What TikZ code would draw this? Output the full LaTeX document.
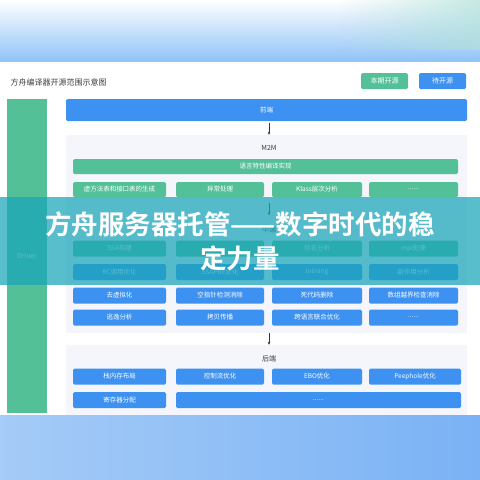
\documentclass[tikz,border=0pt]{standalone}
\usepackage{fontspec}
\setmainfont{Noto Sans CJK SC}[BoldFont=Noto Sans CJK SC Bold]
\usetikzlibrary{arrows.meta,fadings}
\definecolor{arkblue}{RGB}{61,145,241}
\definecolor{arkgreen}{RGB}{84,192,152}
\definecolor{panelbg}{RGB}{244,246,252}
\definecolor{skyblue}{RGB}{142,194,247}
\definecolor{bandblue}{RGB}{122,178,245}
\definecolor{bandlight}{RGB}{165,203,247}
\definecolor{mint}{RGB}{175,225,215}
\definecolor{veil}{RGB}{25,165,185}
\definecolor{inkgray}{RGB}{60,60,60}
\begin{document}
\begin{tikzpicture}[x=1pt,y=-1pt,
	box/.style={rectangle,rounded corners=1.5pt,inner sep=0pt,minimum height=16pt,text=white,font=\fontsize{6.5}{7}\selectfont},
	gbox/.style={box,fill=arkgreen},
	bbox/.style={box,fill=arkblue},
	panel/.style={rectangle,fill=panelbg,inner sep=0pt},
	lbl/.style={font=\fontsize{7}{8}\selectfont,text=inkgray},
	arr/.style={-{Stealth[length=3pt,width=2.6pt]},line width=0.5pt,black!80}]
	\useasboundingbox (0,0) rectangle (480,480);
	% background bands
	\shade[top color=white,bottom color=skyblue] (0,0) rectangle (480,62);
	\fill[mint,opacity=0.7,path fading=west] (340,0) rectangle (480,50);
	\fill[white] (0,62) rectangle (480,415);
	\shade[left color=bandlight,right color=bandblue] (0,415) rectangle (480,480);
	% title and legend
	\node[lbl,anchor=west,font=\fontsize{8}{9}\selectfont] (title) at (7,82) {方舟编译器开源范围示意图};
	\node[gbox,minimum width=47pt,font=\fontsize{7}{8}\selectfont] (leg1) at (384.5,81) {本期开源};
	\node[bbox,minimum width=47pt,font=\fontsize{7}{8}\selectfont] (leg2) at (442.5,81) {待开源};
	% driver column
	\node[rectangle,fill=arkgreen,inner sep=0pt,minimum width=40pt,minimum height=314pt,text=white,font=\fontsize{7}{8}\selectfont] (drv) at (27,256) {Driver};
	% front end
	\node[bbox,minimum width=401pt,minimum height=22pt] (qd) at (266.5,110) {前端};
	% middle end
	\node[panel,minimum width=401pt,minimum height=198pt] (mpanel) at (266.5,234) {};
	\node[lbl] (m2m) at (269,148) {M2M};
	\node[gbox,minimum width=385pt,minimum height=15pt] (lang) at (265.5,166.5) {语言特性编译实现};
	\node[gbox,minimum width=93pt,minimum height=15pt] (r1a) at (119.5,189.5) {虚方法表和接口表的生成};
	\node[gbox,minimum width=88pt,minimum height=15pt] (r1b) at (220,189.5) {异常处理};
	\node[gbox,minimum width=90pt,minimum height=15pt] (r1c) at (317,189.5) {Klass层次分析};
	\node[gbox,minimum width=89pt,minimum height=15pt] (r1d) at (413.5,189.5) {......};
	\node[lbl] (zd) at (269,230) {中端};
	\node[gbox,minimum width=93pt] (r2a) at (119.5,248.5) {SSA构建};
	\node[gbox,minimum width=88pt] (r2b) at (220,248.5) {};
	\node[gbox,minimum width=90pt] (r2c) at (317,248.5) {别名分析};
	\node[gbox,minimum width=89pt] (r2d) at (413.5,248.5) {mpl处理};
	\node[bbox,minimum width=93pt] (r3a) at (119.5,272) {RC调用优化};
	\node[bbox,minimum width=88pt] (r3b) at (220,272) {SSAPRE优化};
	\node[bbox,minimum width=90pt] (r3c) at (317,272) {inlining};
	\node[bbox,minimum width=89pt] (r3d) at (413.5,272) {副作用分析};
	\node[bbox,minimum width=93pt] (r4a) at (119.5,295.5) {去虚拟化};
	\node[bbox,minimum width=88pt] (r4b) at (220,295.5) {空指针检测消除};
	\node[bbox,minimum width=90pt] (r4c) at (317,295.5) {死代码删除};
	\node[bbox,minimum width=89pt] (r4d) at (413.5,295.5) {数组越界检查消除};
	\node[bbox,minimum width=93pt] (r5a) at (119.5,317.5) {逃逸分析};
	\node[bbox,minimum width=88pt] (r5b) at (220,317.5) {拷贝传播};
	\node[bbox,minimum width=90pt] (r5c) at (317,317.5) {跨语言联合优化};
	\node[bbox,minimum width=89pt] (r5d) at (413.5,317.5) {......};
	% back end
	\node[panel,minimum width=401pt,minimum height=70pt] (hpanel) at (266.5,380) {};
	\node[lbl] (hd) at (269,359) {后端};
	\node[bbox,minimum width=93pt] (r6a) at (119.5,376.5) {栈内存布局};
	\node[bbox,minimum width=88pt] (r6b) at (220,376.5) {控制流优化};
	\node[bbox,minimum width=90pt] (r6c) at (317,376.5) {EBO优化};
	\node[bbox,minimum width=92pt] (r6d) at (415,376.5) {Peephole优化};
	\node[bbox,minimum width=93pt] (r7a) at (119.5,400) {寄存器分配};
	\node[bbox,minimum width=285pt] (r7b) at (318.5,400) {......};
	% arrows
	\draw[arr,shorten <=1.5pt] (qd.south -| m2m) -- (mpanel.north -| m2m);
	\draw[arr,shorten <=6pt,shorten >=8pt] (r1b.south -| zd.north) -- (zd.north);
	\draw[arr] (mpanel.south -| hd) -- (hpanel.north -| hd);
	% headline veil
	\fill[veil,opacity=0.72] (0,197) rectangle (480,285);
	\node[font=\fontsize{26.5}{34}\selectfont\bfseries,text=white,align=center] (head) at (240,241) {方舟服务器托管——数字时代的稳\\定力量};
\end{tikzpicture}
\end{document}
